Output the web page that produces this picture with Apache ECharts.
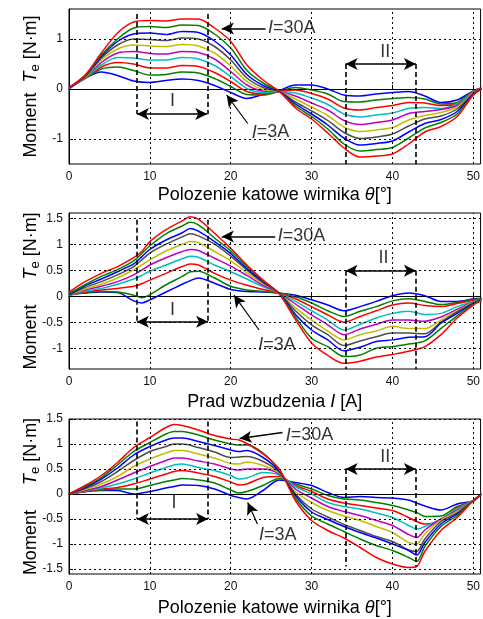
<!DOCTYPE html>
<html><head><meta charset="utf-8">
<script src="https://cdn.jsdelivr.net/npm/echarts@6/dist/echarts.min.js"></script>
<style>html,body{margin:0;padding:0;background:#fff}#c{width:483px;height:619px}</style>
</head><body><div id="c"></div>
<script>
// ---------------- data ----------------
const currents = [3, 6, 9, 12, 15, 18, 21, 24, 27, 30];

// Plot 1: torque vs rotor angle
const theta1 = [0,2,4,6,8,10,12,14,16,18,20,22,24,26,28,30,32,34,36,38,40,42,44,46,48,50,51];
const p1_03A = [0.00,0.22,0.34,0.27,0.16,0.13,0.17,0.20,0.17,0.07,-0.07,-0.19,-0.11,-0.03,0.08,0.08,0.00,-0.12,-0.14,-0.10,-0.07,-0.05,-0.14,-0.27,-0.22,-0.04,0.02];
const p1_06A = [0.02,0.21,0.40,0.44,0.37,0.28,0.29,0.34,0.32,0.21,0.05,-0.11,-0.12,-0.05,0.03,-0.02,-0.10,-0.25,-0.26,-0.22,-0.19,-0.17,-0.20,-0.30,-0.27,-0.04,0.02];
const p1_09A = [0.02,0.22,0.44,0.53,0.50,0.42,0.42,0.47,0.45,0.33,0.15,-0.05,-0.10,-0.05,-0.02,-0.09,-0.20,-0.38,-0.42,-0.37,-0.33,-0.27,-0.28,-0.33,-0.30,-0.05,0.01];
const p1_12A = [0.02,0.22,0.48,0.63,0.62,0.58,0.58,0.63,0.60,0.47,0.25,0.01,-0.07,-0.05,-0.08,-0.18,-0.31,-0.50,-0.56,-0.52,-0.48,-0.39,-0.37,-0.39,-0.30,-0.06,0.01];
const p1_15A = [0.02,0.23,0.53,0.72,0.75,0.71,0.70,0.75,0.73,0.60,0.35,0.08,-0.04,-0.05,-0.14,-0.28,-0.42,-0.63,-0.71,-0.67,-0.62,-0.49,-0.45,-0.41,-0.33,-0.07,0.01];
const p1_18A = [0.02,0.24,0.58,0.80,0.88,0.86,0.85,0.89,0.86,0.72,0.46,0.15,-0.01,-0.05,-0.20,-0.36,-0.53,-0.76,-0.85,-0.82,-0.77,-0.62,-0.53,-0.47,-0.36,-0.08,0.00];
const p1_21A = [0.02,0.25,0.62,0.88,1.00,0.99,0.97,1.02,1.00,0.85,0.58,0.22,0.03,-0.05,-0.26,-0.44,-0.63,-0.87,-0.99,-0.96,-0.90,-0.74,-0.60,-0.54,-0.40,-0.09,0.00];
const p1_24A = [0.02,0.26,0.65,0.95,1.10,1.12,1.09,1.15,1.13,0.96,0.68,0.29,0.07,-0.05,-0.30,-0.50,-0.72,-0.98,-1.12,-1.09,-1.04,-0.86,-0.69,-0.61,-0.45,-0.10,0.00];
const p1_27A = [0.03,0.27,0.68,1.00,1.22,1.25,1.23,1.28,1.27,1.10,0.82,0.37,0.12,-0.05,-0.34,-0.55,-0.80,-1.10,-1.24,-1.21,-1.17,-0.98,-0.78,-0.67,-0.50,-0.11,0.00];
const p1_30A = [0.03,0.28,0.72,1.12,1.34,1.37,1.36,1.40,1.40,1.22,0.95,0.48,0.18,-0.05,-0.38,-0.60,-0.88,-1.18,-1.36,-1.34,-1.30,-1.10,-0.86,-0.75,-0.55,-0.12,0.00];

// Plot 2
const theta2 = [0,2,4,6,8,9,10,12,14,15,16,18,20,22,24,26,28,30,32,34,36,38,40,42,44,46,48,50,51];
const p2_03A = [0.03,0.06,0.08,0.07,-0.09,-0.13,-0.07,0.08,0.23,0.30,0.35,0.25,0.13,0.09,0.08,0.06,0.02,-0.07,-0.17,-0.28,-0.20,-0.10,0.01,0.06,0.01,-0.10,-0.10,-0.05,-0.04];
const p2_06A = [0.02,0.07,0.09,0.08,0.02,-0.03,0.03,0.22,0.38,0.47,0.48,0.35,0.19,0.12,0.09,0.06,-0.01,-0.13,-0.28,-0.39,-0.29,-0.20,-0.09,-0.05,-0.10,-0.16,-0.12,-0.06,-0.05];
const p2_09A = [0.02,0.08,0.12,0.15,0.19,0.24,0.31,0.44,0.57,0.62,0.60,0.44,0.31,0.21,0.13,0.06,-0.05,-0.20,-0.36,-0.50,-0.39,-0.28,-0.17,-0.13,-0.18,-0.20,-0.14,-0.08,-0.05];
const p2_12A = [0.02,0.10,0.15,0.23,0.33,0.40,0.48,0.60,0.72,0.77,0.75,0.60,0.47,0.33,0.18,0.06,-0.10,-0.28,-0.46,-0.65,-0.54,-0.42,-0.33,-0.29,-0.35,-0.33,-0.20,-0.10,-0.05];
const p2_15A = [0.02,0.12,0.19,0.28,0.41,0.50,0.60,0.74,0.86,0.90,0.88,0.73,0.58,0.40,0.21,0.06,-0.15,-0.36,-0.55,-0.74,-0.63,-0.54,-0.46,-0.46,-0.48,-0.40,-0.25,-0.11,-0.05];
const p2_18A = [0.02,0.14,0.23,0.35,0.51,0.60,0.70,0.87,1.00,1.05,1.03,0.86,0.68,0.45,0.24,0.06,-0.22,-0.46,-0.67,-0.84,-0.74,-0.67,-0.58,-0.62,-0.62,-0.46,-0.28,-0.12,-0.05];
const p2_21A = [0.02,0.17,0.28,0.41,0.57,0.70,0.83,1.00,1.14,1.20,1.16,1.00,0.77,0.50,0.26,0.06,-0.28,-0.55,-0.74,-0.95,-0.86,-0.78,-0.71,-0.71,-0.72,-0.50,-0.30,-0.13,-0.05];
const p2_24A = [0.03,0.20,0.33,0.47,0.62,0.76,0.90,1.08,1.22,1.30,1.25,1.05,0.82,0.53,0.28,0.06,-0.35,-0.65,-0.84,-1.05,-0.98,-0.87,-0.84,-0.79,-0.78,-0.52,-0.33,-0.14,-0.05];
const p2_27A = [0.05,0.22,0.38,0.51,0.68,0.82,0.97,1.20,1.35,1.42,1.37,1.12,0.87,0.57,0.30,0.05,-0.40,-0.81,-0.97,-1.16,-1.13,-1.00,-0.97,-0.92,-0.86,-0.62,-0.38,-0.15,-0.06];
const p2_30A = [0.08,0.28,0.44,0.57,0.74,0.86,1.05,1.28,1.45,1.53,1.48,1.21,0.92,0.60,0.31,0.04,-0.45,-0.90,-1.14,-1.29,-1.25,-1.17,-1.12,-1.06,-0.97,-0.74,-0.42,-0.17,-0.09];

// Plot 3
const theta3 = [0,2,4,6,8,10,12,13,14,16,18,20,21,22,24,26,28,30,32,34,36,38,40,42,43,44,46,48,50,51];
const p3_03A = [0,0.05,0.07,0.07,0.00,0.05,0.12,0.15,0.18,0.17,0.10,-0.03,-0.07,-0.10,0.07,0.28,0.23,0.17,0.03,-0.07,-0.05,-0.07,-0.08,-0.12,-0.18,-0.24,-0.32,-0.20,-0.14,0.00];
const p3_06A = [0,0.05,0.08,0.10,0.10,0.17,0.25,0.28,0.31,0.28,0.22,0.08,0.02,0.05,0.17,0.31,0.20,0.10,-0.03,-0.10,-0.12,-0.17,-0.23,-0.32,-0.37,-0.45,-0.44,-0.25,-0.14,0.00];
const p3_09A = [0,0.05,0.10,0.13,0.20,0.30,0.40,0.45,0.47,0.42,0.35,0.24,0.18,0.20,0.33,0.35,0.17,0.05,-0.10,-0.18,-0.23,-0.28,-0.33,-0.47,-0.55,-0.60,-0.53,-0.28,-0.13,0.00];
const p3_12A = [0,0.06,0.12,0.20,0.30,0.42,0.53,0.58,0.60,0.53,0.47,0.37,0.30,0.32,0.43,0.38,0.15,0.00,-0.17,-0.25,-0.30,-0.38,-0.47,-0.63,-0.70,-0.65,-0.50,-0.30,-0.13,0.00];
const p3_15A = [0,0.07,0.15,0.28,0.42,0.55,0.67,0.72,0.72,0.66,0.60,0.50,0.48,0.50,0.50,0.40,0.10,-0.08,-0.25,-0.35,-0.43,-0.53,-0.63,-0.81,-0.87,-0.72,-0.50,-0.33,-0.13,0.00];
const p3_18A = [0,0.09,0.20,0.35,0.55,0.70,0.82,0.87,0.87,0.80,0.72,0.61,0.60,0.64,0.57,0.42,0.05,-0.17,-0.33,-0.44,-0.53,-0.65,-0.77,-0.97,-1.00,-0.80,-0.52,-0.35,-0.13,0.00];
const p3_21A = [0,0.11,0.25,0.45,0.67,0.85,0.95,1.00,1.00,0.93,0.84,0.73,0.74,0.75,0.65,0.44,0.00,-0.30,-0.46,-0.61,-0.73,-0.85,-0.95,-1.12,-1.15,-0.90,-0.55,-0.38,-0.13,0.00];
const p3_24A = [0,0.13,0.30,0.52,0.78,0.95,1.08,1.12,1.12,1.05,0.97,0.88,0.85,0.87,0.73,0.46,-0.03,-0.36,-0.51,-0.65,-0.77,-0.88,-1.00,-1.13,-1.22,-0.97,-0.60,-0.40,-0.13,0.00];
const p3_27A = [0,0.15,0.33,0.58,0.85,1.03,1.20,1.25,1.25,1.18,1.08,1.00,0.98,0.98,0.82,0.48,-0.08,-0.44,-0.60,-0.75,-0.90,-1.03,-1.13,-1.27,-1.35,-1.05,-0.65,-0.43,-0.13,0.00];
const p3_30A = [0,0.17,0.37,0.63,0.93,1.13,1.33,1.39,1.37,1.28,1.17,1.10,1.08,1.01,0.80,0.50,-0.13,-0.53,-0.73,-0.88,-1.07,-1.27,-1.40,-1.47,-1.45,-1.15,-0.73,-0.47,-0.13,0.00];

// tick labels
const xTicks = [0, 10, 20, 30, 40, 50];
const yTicks1 = [-1, 0, 1];
const yTicks2 = [-1, -0.5, 0, 0.5, 1, 1.5];
const yTicks3 = [-1.5, -1, -0.5, 0, 0.5, 1, 1.5];

// ---------------- style / layout ----------------
const FONT = '"Liberation Sans", Arial, sans-serif';
const COLORS = ['#0000ff','#008000','#ff0000','#00bfbf','#bf00bf','#bfbf00','#4d4d4d','#0000ff','#008000','#ff0000'];
const plots = [
  {theta: theta1, curves: [p1_03A,p1_06A,p1_09A,p1_12A,p1_15A,p1_18A,p1_21A,p1_24A,p1_27A,p1_30A],
   top: 9, height: 155, ymin: -1.5, ymax: 1.6, yTicks: yTicks1, xname: 'Polozenie katowe wirnika {i|θ}[°]', xgap: 22,
   yname: '{n|Moment}  {t|T}{s|e} {n|[N·m]}',
   regI: [8.4, 17.1, 1.5, -0.5], regII: [34.2, 42.9, 0.5, -1.5],
   a30: [[24.3, 1.21], [18.9, 1.21]], t30: [24.6, 1.22],
   a3: [[22.1, -0.69], [19.5, -0.12]], t3: [22.6, -0.87],
   tI: [12.8, -0.25], tII: [39.1, 0.73]},
  {theta: theta2, curves: [p2_03A,p2_06A,p2_09A,p2_12A,p2_15A,p2_18A,p2_21A,p2_24A,p2_27A,p2_30A],
   top: 213, height: 156, ymin: -1.4, ymax: 1.6, yTicks: yTicks2, xname: 'Prad wzbudzenia {i|I} [A]', xgap: 24,
   yname: '{n|Moment}     {t|T}{s|e} {n|[N·m]}',
   regI: [8.4, 17.2, 1.47, -0.49], regII: [34.2, 42.9, 0.49, -1.4],
   a30: [[25.5, 1.15], [18.9, 1.15]], t30: [25.8, 1.15],
   a3: [[23.5, -0.65], [20.4, 0.02]], t3: [23.4, -0.93],
   tI: [12.8, -0.26], tII: [38.9, 0.73]},
  {theta: theta3, curves: [p3_03A,p3_06A,p3_09A,p3_12A,p3_15A,p3_18A,p3_21A,p3_24A,p3_27A,p3_30A],
   top: 419, height: 155, ymin: -1.6, ymax: 1.5, yTicks: yTicks3, xname: 'Polozenie katowe wirnika {i|θ}[°]', xgap: 25,
   yname: '{n|Moment}     {t|T}{s|e} {n|[N·m]}',
   regI: [8.4, 17.2, 1.45, -0.5], regII: [34.2, 42.9, 0.5, -1.45],
   a30: [[26.4, 1.23], [21.1, 1.11]], t30: [26.8, 1.17],
   a3: [[23.3, -0.6], [22.1, -0.17]], t3: [23.5, -0.82],
   tI: [13.0, -0.18], tII: [39.1, 0.73]}
];

const grids = [], xAxes = [], yAxes = [], series = [];
const gridDash = {color: '#000', width: 1, type: [2, 3]};
const regDash = {color: '#000', width: 1.6, type: [5, 3]};
const arrowLine = {color: '#000', width: 1.6, type: 'solid'};
const RICH = {
  n: {fontSize: 18, fontFamily: FONT, color: '#000'},
  t: {fontSize: 18, fontFamily: FONT, fontStyle: 'italic', color: '#000'},
  s: {fontSize: 13, fontFamily: FONT, color: '#000', padding: [9, 0, 0, 0]},
  i: {fontSize: 18, fontFamily: FONT, fontStyle: 'italic', color: '#000'}
};

plots.forEach((p, g) => {
  grids.push({left: 69, right: 1, top: p.top, height: p.height, show: true, borderColor: '#000', borderWidth: 1, backgroundColor: '#fff'});
  xAxes.push({
    type: 'value', gridIndex: g, min: 0, max: 50.9,
    axisLine: {lineStyle: {color: '#000'}},
    axisTick: {inside: true, length: 4, customValues: xTicks, lineStyle: {color: '#000'}},
    axisLabel: {fontSize: 12, fontFamily: FONT, color: '#111', margin: 7, customValues: xTicks},
    splitLine: {show: false},
    name: p.xname, nameLocation: 'middle', nameGap: p.xgap, nameMoveOverlap: false,
    nameTextStyle: {fontSize: 18, fontFamily: FONT, color: '#000', rich: RICH}
  });
  yAxes.push({
    type: 'value', gridIndex: g, min: p.ymin, max: p.ymax,
    axisLine: {lineStyle: {color: '#000'}},
    axisTick: {inside: true, length: 4, customValues: p.yTicks, lineStyle: {color: '#000'}},
    axisLabel: {fontSize: 12, fontFamily: FONT, color: '#111', margin: 6, customValues: p.yTicks},
    splitLine: {show: false},
    name: p.yname, nameLocation: 'middle', nameGap: 27, nameRotate: 90, nameMoveOverlap: false,
    nameTextStyle: {fontSize: 18, fontFamily: FONT, color: '#000', rich: RICH}
  });
  // grid lines (horizontal at y ticks, vertical at x ticks)
  series.push({
    type: 'line', xAxisIndex: g, yAxisIndex: g, data: [], z: 1, silent: true,
    markLine: {silent: true, symbol: 'none', animation: false, label: {show: false},
      lineStyle: gridDash,
      data: p.yTicks.map(v => ({yAxis: v})).concat(xTicks.filter(v => v > 0).map(v => ({xAxis: v})))}
  });
  // curves
  p.curves.forEach((arr, k) => {
    series.push({
      type: 'line', name: currents[k] + 'A', xAxisIndex: g, yAxisIndex: g,
      data: p.theta.map((t, j) => [t, arr[j]]),
      symbol: 'none', showSymbol: false, smooth: 0.3, z: 3, silent: true,
      lineStyle: {width: 1.5, color: COLORS[k]}, itemStyle: {color: COLORS[k]}
    });
  });
  // annotations
  const seg = (a, b, sa, sb, style) => [
    {coord: a, symbol: sa, symbolSize: [9, 12], lineStyle: style, label: {show: false}},
    {coord: b, symbol: sb, symbolSize: [9, 12]}
  ];
  const [i1, i2, iTop, iBot] = p.regI;
  const [j1, j2, jTop, jBot] = p.regII;
  const mk = [
    seg([i1, iTop], [i1, iBot], 'none', 'none', regDash),
    seg([i2, iTop], [i2, iBot], 'none', 'none', regDash),
    seg([i1, iBot], [i2, iBot], 'arrow', 'arrow', arrowLine),
    seg([j1, jTop], [j1, jBot], 'none', 'none', regDash),
    seg([j2, jTop], [j2, jBot], 'none', 'none', regDash),
    seg([j1, jTop], [j2, jTop], 'arrow', 'arrow', arrowLine),
    seg(p.a30[0], p.a30[1], 'none', 'arrow', arrowLine),
    seg(p.a3[0], p.a3[1], 'none', 'arrow', {color: '#000', width: 1.2, type: 'solid'})
  ];
  const lbl = (pos, text, position) => ({value: pos, label: {show: true, formatter: text, position: position, distance: 0}});
  series.push({
    type: 'scatter', xAxisIndex: g, yAxisIndex: g, symbolSize: 0, z: 5, silent: true,
    label: {show: true, fontSize: 18, fontFamily: FONT, color: '#000', rich: RICH},
    data: [
      lbl(p.t30, '{i|I}=30A', 'right'),
      lbl(p.t3, '{i|I}=3A', 'right'),
      lbl(p.tI, 'I', 'inside'),
      lbl(p.tII, 'II', 'inside')
    ],
    markLine: {silent: true, animation: false, symbol: 'none', label: {show: false}, data: mk}
  });
});

const chart = echarts.init(document.getElementById('c'), null, {renderer: 'canvas'});
chart.setOption({
  animation: false,
  backgroundColor: '#fff',
  textStyle: {fontFamily: FONT},
  grid: grids, xAxis: xAxes, yAxis: yAxes, series: series
});
</script></body></html>
